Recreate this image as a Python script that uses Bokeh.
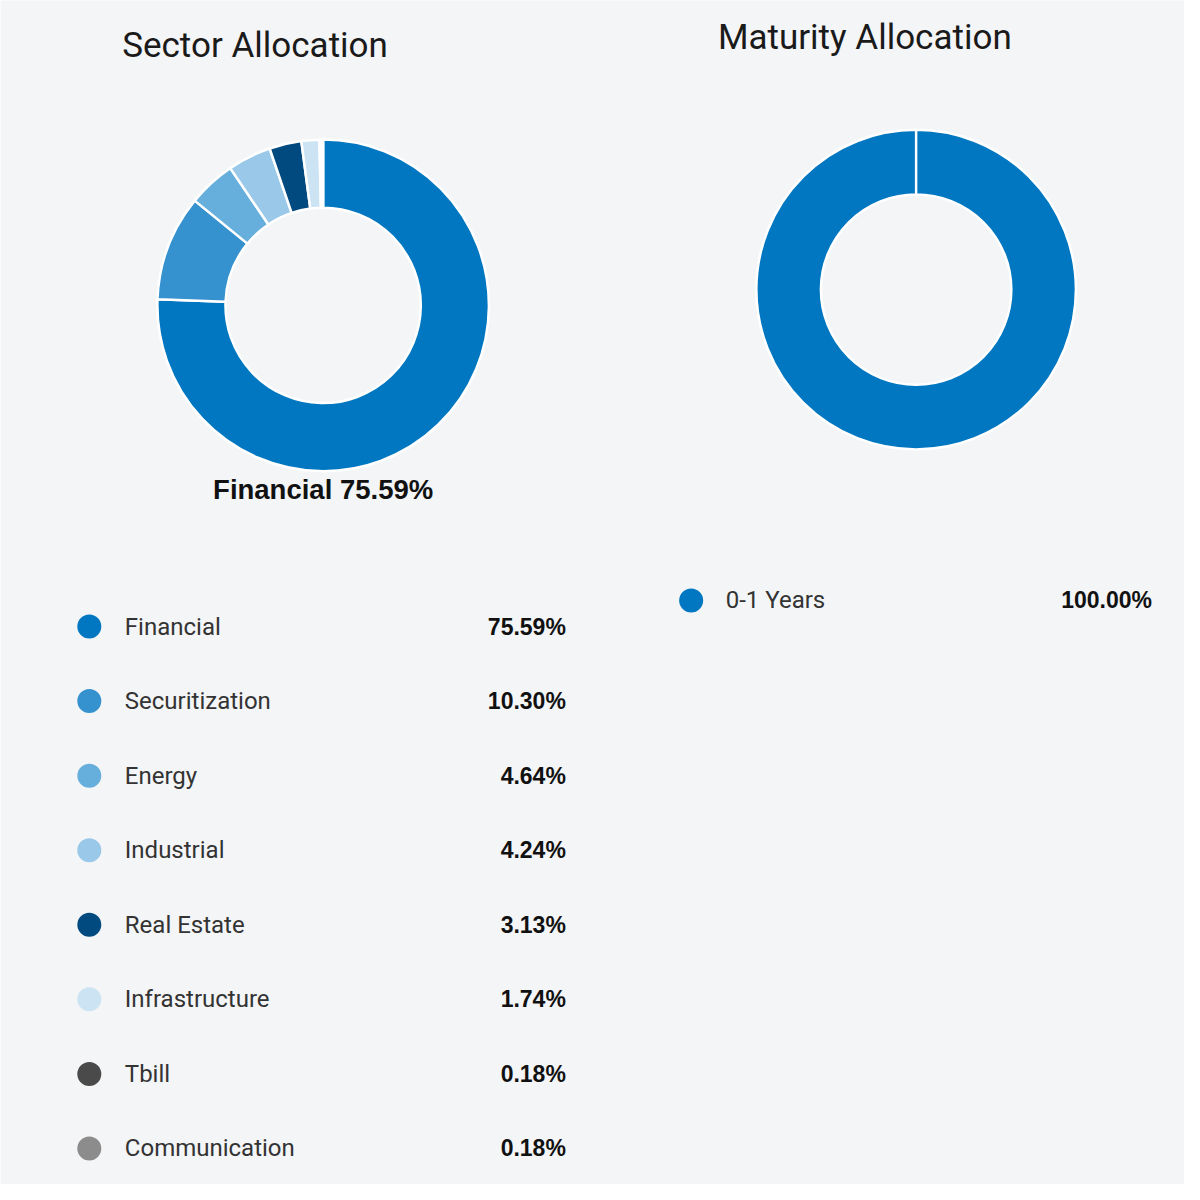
import math
from bokeh.plotting import figure
from bokeh.models import Range1d
from bokeh.core.properties import value
from bokeh.embed import file_html
from bokeh.resources import INLINE

# ---- data ----
sector_names = ["Financial", "Securitization", "Energy", "Industrial", "Real Estate",
                "Infrastructure", "Tbill", "Communication"]
sector_values = [75.59, 10.30, 4.64, 4.24, 3.13, 1.74, 0.18, 0.18]
sector_colors = ["#0077c0", "#3592cf", "#66afdc", "#99c8e8", "#004a7f", "#cce3f4",
                 "#4a4a4a", "#8c8c8c"]

maturity_names = ["0-1 Years"]
maturity_values = [100.00]
maturity_colors = ["#0077c0"]

BG = "#f4f5f7"

p = figure(width=1184, height=1184, x_range=Range1d(0, 1200), y_range=Range1d(1200, 0),
           output_backend="svg", toolbar_location=None, min_border=0,
           background_fill_color=BG, border_fill_color=BG)
p.axis.visible = False
p.grid.visible = False
p.outline_line_color = None


def donut(cx, cy, r_in, r_out, vals, cols):
    total = sum(vals)
    starts, ends = [], []
    cum = 0.0
    for v in vals:
        starts.append(math.pi / 2 - 2 * math.pi * cum / total)
        cum += v
        ends.append(math.pi / 2 - 2 * math.pi * cum / total)
    n = len(vals)
    p.annular_wedge(x=[cx] * n, y=[cy] * n, inner_radius=r_in, outer_radius=r_out,
                    start_angle=starts, end_angle=ends, direction="clock",
                    fill_color=cols, line_color="white", line_width=2.5)


def legend(x_dot, x_label, x_val, y0, step, names, vals, cols):
    n = len(names)
    ys = [y0 + i * step for i in range(n)]
    p.scatter(x=[x_dot] * n, y=ys, size=24, marker="circle", fill_color=cols,
              line_color=None)
    p.text(x=[x_label] * n, y=ys, text=names,
           text_font=value("Roboto"), text_font_size="24px", text_color="#333333",
           text_align="left", text_baseline="middle")
    p.text(x=[x_val] * n, y=ys, text=["%.2f%%" % v for v in vals],
           text_font=value("Liberation Sans"), text_font_style="bold",
           text_font_size="23px", text_color="#111111",
           text_align="right", text_baseline="middle")


# Titles
p.text(x=[258], y=[46], text=["Sector Allocation"], text_font=value("Roboto"),
       text_font_size="35px", text_color="#1a1a1a", text_align="center",
       text_baseline="middle")
p.text(x=[876], y=[38], text=["Maturity Allocation"], text_font=value("Roboto"),
       text_font_size="35px", text_color="#1a1a1a", text_align="center",
       text_baseline="middle")

# Donuts
donut(327, 309, 99, 168, sector_values, sector_colors)
donut(928, 293, 96.5, 162, maturity_values, maturity_colors)

# Highlight label
p.text(x=[327], y=[496], text=["%s %.2f%%" % (sector_names[0], sector_values[0])],
       text_font=value("Liberation Sans"), text_font_style="bold",
       text_font_size="27.5px", text_color="#111111", text_align="center",
       text_baseline="middle")

# Legends
legend(90, 126, 573, 634.5, 75.57, sector_names, sector_values, sector_colors)
legend(700, 735, 1167, 608, 75.57, maturity_names, maturity_values, maturity_colors)

open("out.html", "w").write(file_html(p, INLINE))
